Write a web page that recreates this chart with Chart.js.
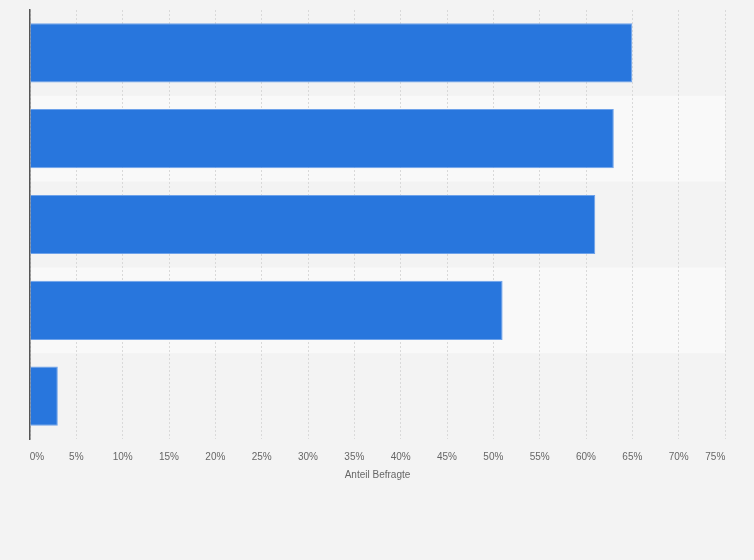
<!DOCTYPE html>
<html lang="de">
<head>
<meta charset="utf-8">
<title>Anteil Befragte</title>
<script src="https://cdn.jsdelivr.net/npm/chart.js@4.4.1/dist/chart.umd.min.js"></script>
<style>
  html, body { margin: 0; padding: 0; background: #f3f3f3; }
  #wrap { width: 754px; height: 560px; }
</style>
</head>
<body>
<div id="wrap"><canvas id="chart" width="754" height="560"></canvas></div>
<script>
// Kategorien sind in der Vorlage nicht beschriftet
const categories = ['Kategorie 1', 'Kategorie 2', 'Kategorie 3', 'Kategorie 4', 'Kategorie 5'];
const shares = [65, 63, 61, 51, 3];
const tickValues = [0, 5, 10, 15, 20, 25, 30, 35, 40, 45, 50, 55, 60, 65, 70, 75];
const axisTitle = 'Anteil Befragte';

const BAR_BLUE = '#2876dd';
const FONT = "'Liberation Sans', Arial, sans-serif";

// abwechselnd helle Streifen hinter Gitter und Balken
const bandPlugin = {
  id: 'bands',
  beforeDraw(c) {
    const y = c.scales.y;
    const area = c.chartArea;
    if (!area) return;
    const ctx = c.ctx;
    const step = (area.bottom - area.top) / categories.length;
    ctx.save();
    categories.forEach((cat, i) => {
      if (i % 2 === 1) {
        const mid = y.getPixelForValue(i);
        ctx.fillStyle = '#f9f9f9';
        ctx.fillRect(area.left, mid - step / 2, area.right - area.left, step);
      }
    });
    ctx.restore();
  }
};

// Randbeschriftungen leicht nach innen schieben wie im Original
function tickLabel(value) {
  const txt = value + '%';
  if (value === tickValues[0]) return '     ' + txt;
  if (value === tickValues[tickValues.length - 1]) return txt + '       ';
  return txt;
}

new Chart(document.getElementById('chart').getContext('2d'), {
  type: 'bar',
  data: {
    labels: categories,
    datasets: [{
      label: axisTitle,
      data: shares,
      backgroundColor: BAR_BLUE,
      borderColor: '#6ea2ea',
      borderWidth: 1,
      borderSkipped: 'start',
      categoryPercentage: 1,
      barPercentage: 0.69
    }]
  },
  plugins: [bandPlugin],
  options: {
    indexAxis: 'y',
    responsive: false,
    animation: false,
    devicePixelRatio: 1,
    layout: { padding: { top: 10, right: 29, bottom: 79, left: 0 } },
    plugins: {
      legend: { display: false },
      tooltip: { enabled: false }
    },
    scales: {
      x: {
        min: 0,
        max: 75,
        afterBuildTicks: s => { s.ticks = tickValues.map(v => ({ value: v })); },
        // Platz rechts kommt nur aus dem Layout-Padding
        afterFit: s => { s.paddingLeft = 0; s.paddingRight = 0; },
        ticks: {
          callback: v => tickLabel(v),
          color: '#666',
          font: { family: FONT, size: 10 },
          padding: 12,
          maxRotation: 0,
          autoSkip: false
        },
        grid: { color: '#d9d9d9', lineWidth: 1, drawTicks: false },
        border: { display: false, dash: [2, 2] },
        title: {
          display: true,
          text: axisTitle,
          color: '#666',
          font: { family: FONT, size: 10 },
          padding: { top: -6, bottom: 0 }
        }
      },
      y: {
        afterFit: s => { s.width = 30; },
        ticks: { display: false },
        grid: { display: false, drawTicks: false },
        border: { display: true, color: '#555', width: 1.5 }
      }
    }
  }
});
</script>
</body>
</html>
